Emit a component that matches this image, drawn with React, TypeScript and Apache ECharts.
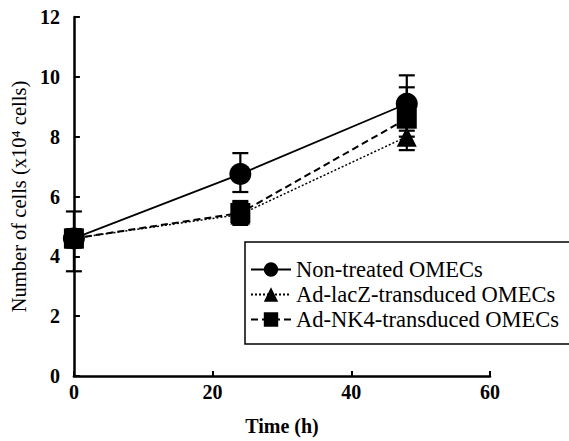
import React, { useEffect, useRef } from "react";
import * as echarts from "echarts";

const times = [0, 24, 48];
const nonTreated = [4.6, 6.75, 9.1];
const nonTreatedLow = [3.5, 6.15, 8.2];
const nonTreatedHigh = [5.5, 7.45, 10.05];
const lacZ = [4.6, 5.4, 8.0];
const lacZLow = [4.3, 5.05, 7.55];
const lacZHigh = [4.9, 5.8, 8.5];
const nk4 = [4.6, 5.45, 8.6];
const nk4Low = [4.3, 5.1, 8.0];
const nk4High = [4.9, 5.85, 9.65];
const seriesNames = ["Non-treated OMECs", "Ad-lacZ-transduced OMECs", "Ad-NK4-transduced OMECs"];

const FONT = "Liberation Serif";

function errData(low: number[], high: number[]) {
  return times.map((t, i) => [t, low[i], high[i]]);
}

function errSeries(low: number[], high: number[]) {
  return {
    type: "custom",
    data: errData(low, high),
    z: 3,
    silent: true,
    renderItem: (params: any, api: any) => {
      const x = api.value(0);
      const lo = api.coord([x, api.value(1)]);
      const hi = api.coord([x, api.value(2)]);
      const w = 8;
      const style = { stroke: "#000", lineWidth: 2.2 };
      return {
        type: "group",
        children: [
          { type: "line", shape: { x1: lo[0], y1: lo[1], x2: hi[0], y2: hi[1] }, style },
          { type: "line", shape: { x1: lo[0] - w, y1: lo[1], x2: lo[0] + w, y2: lo[1] }, style },
          { type: "line", shape: { x1: hi[0] - w, y1: hi[1], x2: hi[0] + w, y2: hi[1] }, style },
        ],
      };
    },
  };
}

export default function App() {
  const ref = useRef<HTMLDivElement>(null);
  useEffect(() => {
    if (!ref.current) return;
    const chart = echarts.init(ref.current, undefined, { renderer: "svg" });
    const pair = (vals: number[]) => times.map((t, i) => [t, vals[i]]);
    chart.setOption({
      animation: false,
      backgroundColor: "#fff",
      textStyle: { fontFamily: FONT, color: "#000" },
      grid: { left: 71, right: 79, top: 17, bottom: 64 },
      legend: {
        orient: "vertical",
        left: 245,
        top: 242,
        backgroundColor: "#fff",
        borderColor: "#000",
        borderWidth: 1.5,
        borderRadius: 0,
        padding: [16, 12, 13, 5],
        itemWidth: 40,
        itemHeight: 18,
        itemGap: 2,
        itemStyle: { color: "#000" },
        textStyle: { fontFamily: FONT, fontSize: 22.5, color: "#000", lineHeight: 21 },
        data: seriesNames,
      },
      xAxis: {
        type: "value",
        min: 0,
        max: 60,
        interval: 20,
        name: "Time (h)",
        nameLocation: "middle",
        nameGap: 40,
        nameTextStyle: { fontFamily: FONT, fontSize: 20, fontWeight: "bold", color: "#000" },
        axisLine: { show: true, lineStyle: { color: "#000", width: 2.5 } },
        axisTick: { show: true, inside: true, length: 5, lineStyle: { color: "#000", width: 2 } },
        axisLabel: { fontFamily: FONT, fontSize: 20, fontWeight: "bold", color: "#000", margin: 6 },
        splitLine: { show: false },
      },
      yAxis: {
        type: "value",
        min: 0,
        max: 12,
        interval: 2,
        name: "Number of cells (x10⁴ cells)",
        nameLocation: "middle",
        nameGap: 38,
        nameTextStyle: { fontFamily: FONT, fontSize: 20.5, color: "#000" },
        axisLine: { show: true, lineStyle: { color: "#000", width: 2.5 } },
        axisTick: { show: true, inside: true, length: 6, lineStyle: { color: "#000", width: 2 } },
        axisLabel: { fontFamily: FONT, fontSize: 20, fontWeight: "bold", color: "#000", margin: 14 },
        splitLine: { show: false },
      },
      series: [
        errSeries(nonTreatedLow, nonTreatedHigh),
        errSeries(lacZLow, lacZHigh),
        errSeries(nk4Low, nk4High),
        {
          name: seriesNames[1],
          type: "line",
          data: pair(lacZ),
          symbol: "triangle",
          symbolSize: 20,
          z: 4,
          itemStyle: { color: "#000" },
          lineStyle: { color: "#000", width: 1.5, type: [2, 2] },
        },
        {
          name: seriesNames[2],
          type: "line",
          data: pair(nk4),
          symbol: "rect",
          symbolSize: 20,
          z: 5,
          itemStyle: { color: "#000" },
          lineStyle: { color: "#000", width: 2, type: [7, 4] },
        },
        {
          name: seriesNames[0],
          type: "line",
          data: pair(nonTreated),
          symbol: "circle",
          symbolSize: 22,
          z: 6,
          itemStyle: { color: "#000" },
          lineStyle: { color: "#000", width: 1.8, type: "solid" },
        },
      ],
    });
    return () => chart.dispose();
  }, []);
  return <div ref={ref} style={{ width: 569, height: 441, position: "absolute", left: 0, top: 0 }} />;
}
